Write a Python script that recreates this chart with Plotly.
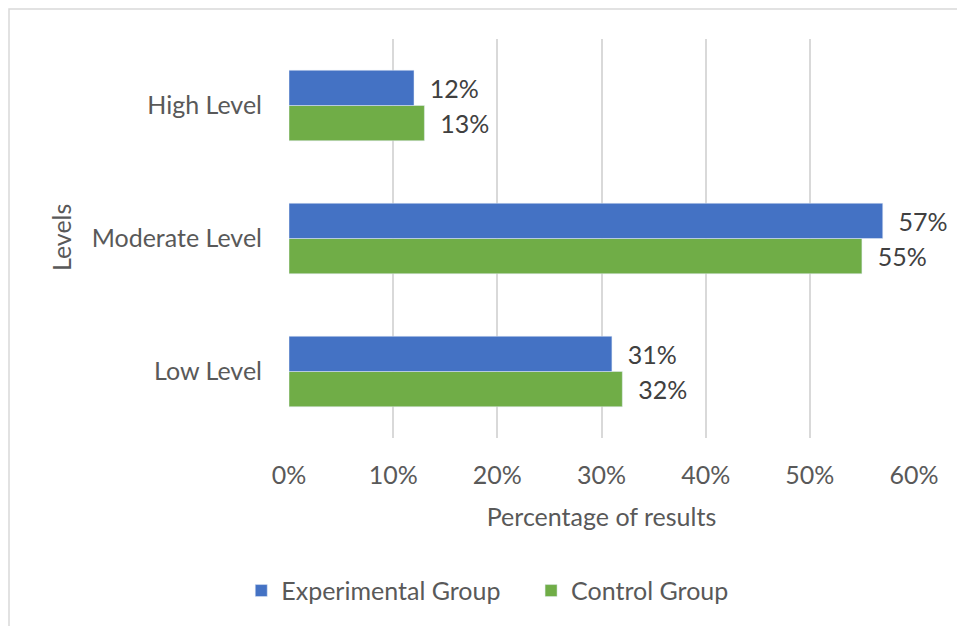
import plotly.graph_objects as go

categories = ["Low Level", "Moderate Level", "High Level"]
experimental = [0.31, 0.57, 0.12]
control = [0.32, 0.55, 0.13]
x_ticks = [0, 0.1, 0.2, 0.3, 0.4, 0.5, 0.6]

FONT = "Lato, Carlito, 'Open Sans', sans-serif"
GRAY = "#595959"
FS = 25

fig = go.Figure()
fig.add_trace(go.Bar(
    y=categories, x=control, orientation="h", name="Control Group",
    marker=dict(color="#70AD47"), legendrank=2,
    text=[f"\u00a0\u00a0{round(v*100)}%" for v in control],
    textposition="outside", cliponaxis=False,
    textfont=dict(color="#404040", size=FS, family=FONT),
))
fig.add_trace(go.Bar(
    y=categories, x=experimental, orientation="h", name="Experimental Group\u00a0\u00a0\u00a0\u00a0",
    marker=dict(color="#4472C4"), legendrank=1,
    text=[f"\u00a0\u00a0{round(v*100)}%" for v in experimental],
    textposition="outside", cliponaxis=False,
    textfont=dict(color="#404040", size=FS, family=FONT),
))

fig.update_layout(
    width=957, height=626,
    margin=dict(l=289, r=43, t=39, b=188),
    paper_bgcolor="white", plot_bgcolor="white",
    barmode="group", bargap=0.47, bargroupgap=0,
    font=dict(family=FONT, color=GRAY, size=FS),
    showlegend=True,
    legend=dict(orientation="h", x=0.318, xanchor="center", y=-0.383, yanchor="middle",
                font=dict(size=FS, color=GRAY), itemwidth=30, traceorder="normal"),
    xaxis=dict(range=[0, 0.6], tickvals=x_ticks, tickformat=".0%",
               showgrid=True, gridcolor="#D9D9D9", gridwidth=1.5, zeroline=False,
               showline=False, ticks="", ticklabelstandoff=20,
               tickfont=dict(size=FS, color=GRAY),
               title=dict(text="Percentage of results", standoff=20, font=dict(size=FS, color=GRAY))),
    yaxis=dict(showgrid=False, zeroline=False, showline=False, ticks="",
               ticklabelstandoff=26, tickfont=dict(size=FS, color=GRAY)),
    annotations=[dict(text="Levels", xref="paper", yref="paper",
                      x=(61 - 289) / 625, y=1 - (238 - 39) / 399,
                      xanchor="center", yanchor="middle", textangle=-90, showarrow=False,
                      font=dict(size=FS, color=GRAY, family=FONT))],
    shapes=[dict(type="rect", xref="paper", yref="paper",
                 x0=(9 - 289) / 625, x1=1.2, y0=-0.6, y1=1 + (39 - 9) / 399,
                 line=dict(color="#D9D9D9", width=1.5), fillcolor="rgba(0,0,0,0)", layer="below")],
)

fig.write_html("out.html")
